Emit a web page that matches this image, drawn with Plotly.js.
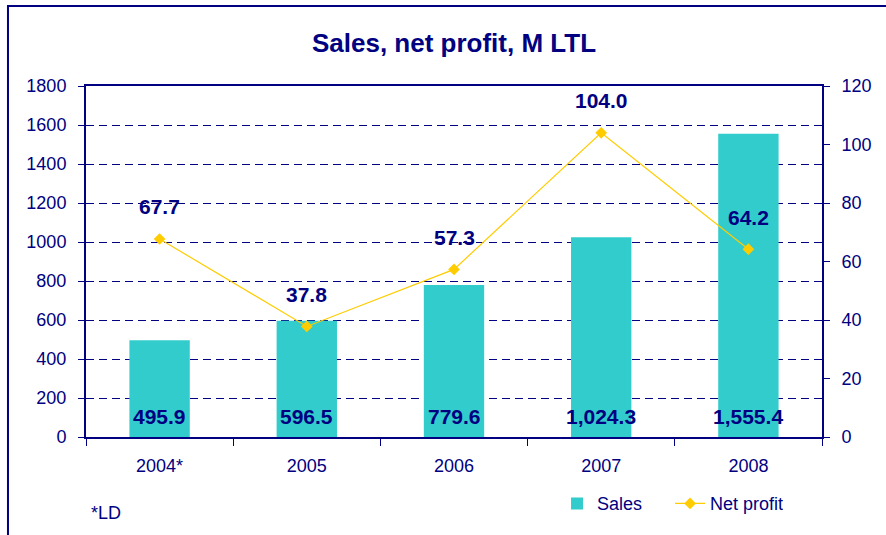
<!DOCTYPE html>
<html>
<head>
<meta charset="utf-8">
<script src="https://cdn.plot.ly/plotly-3.0.1.min.js"></script>
<style>
  html, body { margin: 0; padding: 0; background: #ffffff; }
  #chart { width: 886px; height: 535px; }
</style>
</head>
<body>
<div id="chart"></div>
<script>
// ---- data ----
const years = ["2004*", "2005", "2006", "2007", "2008"];
const sales = [495.9, 596.5, 779.6, 1024.3, 1555.4];       // M LTL, left axis
const netProfit = [67.7, 37.8, 57.3, 104.0, 64.2];         // M LTL, right axis
const titleText = "Sales, net profit, M LTL";
const footnote = "*LD";

const NAVY = "#000080";
const FONT = "'Liberation Sans', Arial, sans-serif";

const barTrace = {
  type: "bar",
  name: "Sales",
  x: years,
  y: sales,
  width: 0.41,
  marker: { color: "#33CCCC", line: { width: 0 } },
  hoverinfo: "skip"
};

const lineTrace = {
  type: "scatter",
  mode: "lines+markers",
  name: "Net profit",
  x: years,
  y: netProfit,
  yaxis: "y2",
  line: { color: "#FFCC00", width: 1.2 },
  marker: { symbol: "diamond", size: 9, color: "#FFCC00" },
  hoverinfo: "skip"
};

const fmtSales = v => v.toLocaleString("en-US", { minimumFractionDigits: 1, maximumFractionDigits: 1 });

const annotations = [];
years.forEach((yr, i) => {
  annotations.push({
    x: i, y: 0, xref: "x", yref: "y",
    text: "<b>" + fmtSales(sales[i]) + "</b>",
    showarrow: false, yanchor: "middle", xanchor: "center", yshift: 21,
    font: { family: FONT, size: 21, color: NAVY }
  });
  annotations.push({
    x: i, y: netProfit[i], xref: "x", yref: "y2",
    text: "<b>" + netProfit[i].toFixed(1) + "</b>",
    showarrow: false, yanchor: "middle", xanchor: "center", yshift: 32,
    font: { family: FONT, size: 21, color: NAVY }
  });
});
annotations.push({
  xref: "paper", yref: "paper", x: 0.004, y: -0.2165,
  xanchor: "left", yanchor: "middle", showarrow: false,
  text: footnote, font: { family: FONT, size: 18, color: NAVY }
});

const layout = {
  width: 886, height: 535,
  margin: { l: 86, r: 64, t: 86, b: 98, pad: 0 },
  paper_bgcolor: "#ffffff",
  plot_bgcolor: "#ffffff",
  font: { family: FONT, color: NAVY, size: 18 },
  title: {
    text: "<b>" + titleText + "</b>",
    font: { family: FONT, size: 26, color: NAVY },
    x: 0.5, xref: "paper", xanchor: "center",
    y: 38, yref: "container", yanchor: "middle"
  },
  showlegend: true,
  legend: {
    orientation: "h",
    x: 0.640, xanchor: "left",
    y: -0.19, yanchor: "middle",
    entrywidth: 68, entrywidthmode: "pixels",
    font: { family: FONT, size: 18, color: NAVY },
    bgcolor: "rgba(0,0,0,0)",
    traceorder: "normal"
  },
  bargap: 0.59,
  xaxis: {
    type: "category",
    categoryorder: "array", categoryarray: years,
    range: [-0.5, 4.5],
    showline: true, linecolor: NAVY, linewidth: 2, mirror: true,
    ticks: "outside", tickson: "boundaries", ticklen: 7, tickcolor: NAVY, tickwidth: 1,
    tickfont: { family: FONT, size: 18, color: NAVY },
    tickangle: 0,
    ticklabelstandoff: 11,
    showgrid: false, zeroline: false,
    fixedrange: true
  },
  yaxis: {
    range: [0, 1800], dtick: 200,
    showline: true, linecolor: NAVY, linewidth: 2,
    ticks: "outside", ticklen: 6, tickcolor: NAVY, tickwidth: 1,
    tickfont: { family: FONT, size: 18, color: NAVY },
    ticklabelstandoff: 8,
    showgrid: true, gridcolor: NAVY, gridwidth: 1, griddash: "8px,5px",
    zeroline: false, fixedrange: true
  },
  yaxis2: {
    overlaying: "y", side: "right", anchor: "x",
    range: [0, 120], dtick: 20,
    showline: true, linecolor: NAVY, linewidth: 2,
    ticks: "outside", ticklen: 6, tickcolor: NAVY, tickwidth: 1,
    tickfont: { family: FONT, size: 18, color: NAVY },
    ticklabelstandoff: 8,
    showgrid: false, zeroline: false, fixedrange: true
  },
  yaxis3: {
    overlaying: "y", side: "right", anchor: "x",
    range: [0, 120], dtick: 20,
    ticks: "inside", ticklen: 6, tickcolor: NAVY, tickwidth: 1,
    showticklabels: false, showgrid: false, zeroline: false, showline: false
  },
  shapes: [{
    type: "rect", xref: "paper", yref: "paper",
    x0: -0.106, x1: 1.3, y0: -0.6, y1: 1.228,
    line: { color: NAVY, width: 2 }, fillcolor: "rgba(0,0,0,0)", layer: "below"
  }],
  annotations: annotations
};

Plotly.newPlot("chart", [barTrace, lineTrace], layout, { displayModeBar: false, staticPlot: true });
</script>
</body>
</html>
